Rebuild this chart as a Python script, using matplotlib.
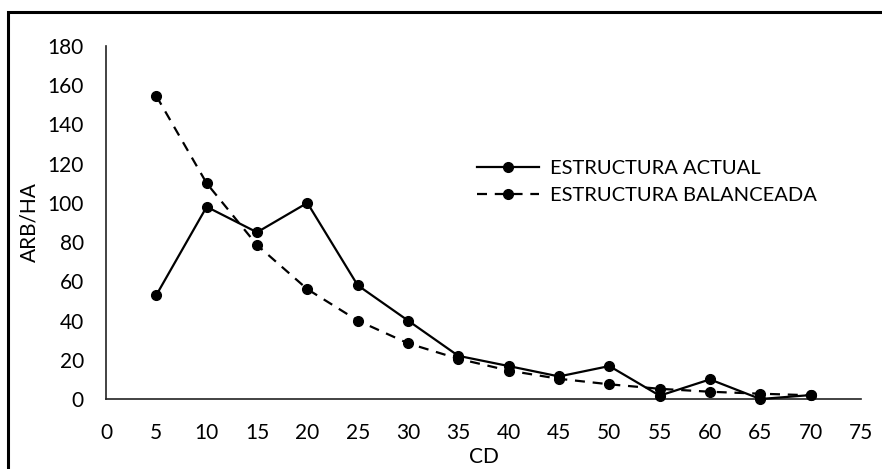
import matplotlib
matplotlib.use("Agg")
import matplotlib.pyplot as plt
from matplotlib.patches import Rectangle

plt.rcParams['font.family'] = ['Lato', 'DejaVu Sans']

# Diameter classes (cm) and trees per hectare
cd = [5, 10, 15, 20, 25, 30, 35, 40, 45, 50, 55, 60, 65, 70]
actual = [53, 98, 85, 100, 58, 40, 22, 16.8, 11.5, 16.8, 1.7, 10, 0, 2]
balanced = [154.5, 110, 78.5, 56, 40, 28.4, 20.5, 14.5, 10.3, 7.5, 5.2, 3.7, 2.7, 1.9]

x_ticks = list(range(0, 80, 5))
y_ticks = list(range(0, 200, 20))

W, H = 882, 469
fig = plt.figure(figsize=(W / 100, H / 100), dpi=100)
ax = fig.add_axes([106 / W, 1 - 399 / H, (861 - 106) / W, (399 - 46) / H])

ax.plot(cd, actual, color='black', lw=1.6, marker='o', markersize=7,
        label='ESTRUCTURA ACTUAL', solid_joinstyle='miter', clip_on=False,
        zorder=3)
ax.plot(cd, balanced, color='black', lw=1.6, marker='o', markersize=7,
        dashes=(4.5, 3.5), label='ESTRUCTURA BALANCEADA', clip_on=False,
        zorder=3)

ax.set_xlim(0, 75)
ax.set_ylim(0, 180)
ax.set_xticks(x_ticks)
ax.set_yticks(y_ticks)
ax.tick_params(length=0, labelsize=15)
ax.tick_params(axis='x', pad=17)
ax.tick_params(axis='y', pad=16)
for s in ('top', 'right'):
    ax.spines[s].set_visible(False)
for s in ('left', 'bottom'):
    ax.spines[s].set_linewidth(1.2)
    ax.spines[s].set_color('#222222')

ax.set_xlabel('CD', fontsize=15, labelpad=3)
ax.set_ylabel('ARB/HA', fontsize=15, labelpad=6)

ax.legend(loc='upper left', bbox_to_anchor=((477 - 106) / 755, (399 - 160) / 353),
          frameon=False, fontsize=14.5, handlelength=3.1, handletextpad=0.5,
          labelspacing=0.5, borderpad=0, borderaxespad=0)

# chart area frame
fig.patches.append(Rectangle((8 / W, -0.05), 1.2, 1 - 12 / H + 0.05,
                             transform=fig.transFigure, fill=False,
                             edgecolor='black', lw=2.2))

fig.savefig('out.png', dpi=100)
